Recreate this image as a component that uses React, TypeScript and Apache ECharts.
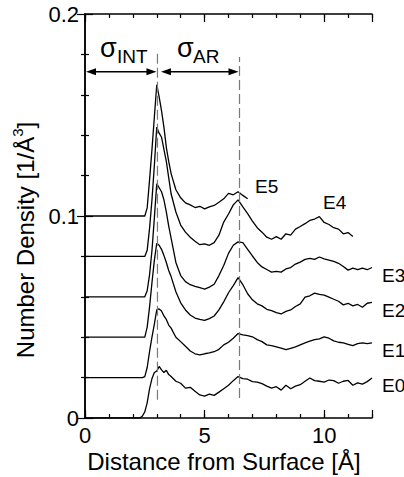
import React, { useEffect, useRef } from "react";
import * as echarts from "echarts";

// Distance from surface [Å]
const X = [0, 2.3, 2.4, 2.5, 2.6, 2.7, 2.8, 2.9, 3.0, 3.1, 3.2, 3.3, 3.4, 3.5, 3.6,
  3.8, 4.0, 4.2, 4.4, 4.6, 4.8, 5.0, 5.2, 5.4, 5.6, 5.8, 6.0, 6.2, 6.4, 6.6, 6.8,
  7.0, 7.2, 7.4, 7.6, 7.8, 8.0, 8.2, 8.4, 8.6, 8.8, 9.0, 9.2, 9.4, 9.6, 9.8,
  10.0, 10.2, 10.4, 10.6, 10.8, 11.0, 11.2, 11.4, 11.6, 11.8, 12.0];

// Number density curves (offset baselines as plotted)
const E0 = [0, 0, 0.001, 0.003, 0.0075, 0.0145, 0.0195, 0.0225, 0.0232, 0.0255, 0.0238, 0.0225, 0.0236, 0.0215, 0.0205,
  0.0182, 0.0172, 0.0148, 0.0152, 0.0132, 0.0114, 0.0108, 0.0118, 0.0112, 0.0128, 0.0145, 0.0162, 0.0185, 0.0205, 0.0195, 0.0192,
  0.018, 0.0178, 0.017, 0.0158, 0.0148, 0.0155, 0.0138, 0.0162, 0.0145, 0.0158, 0.0165, 0.0182, 0.0198, 0.0185, 0.0182,
  0.0178, 0.0188, 0.0185, 0.0172, 0.0182, 0.0186, 0.0162, 0.0174, 0.0168, 0.018, 0.0198];
const E1 = [0.02, 0.02, 0.02, 0.0205, 0.025, 0.033, 0.04, 0.0465, 0.0535, 0.054, 0.053, 0.0505, 0.0488, 0.046, 0.0445,
  0.04, 0.0378, 0.0355, 0.0332, 0.0318, 0.0312, 0.0318, 0.0322, 0.0328, 0.034, 0.0362, 0.0375, 0.0395, 0.0418, 0.0412, 0.0408,
  0.0402, 0.0388, 0.0378, 0.0362, 0.0358, 0.0352, 0.0346, 0.0338, 0.0345, 0.0352, 0.0362, 0.0372, 0.038, 0.0388, 0.0392,
  0.0402, 0.0395, 0.0382, 0.0375, 0.0372, 0.0365, 0.0358, 0.0368, 0.0372, 0.0368, 0.0372];
const E2 = [0.04, 0.04, 0.04, 0.04, 0.045, 0.055, 0.067, 0.078, 0.0865, 0.0855, 0.0835, 0.0805, 0.077, 0.073, 0.07,
  0.0625, 0.057, 0.0535, 0.051, 0.0495, 0.0488, 0.0483, 0.0492, 0.0505, 0.0535, 0.0575, 0.062, 0.0655, 0.0695, 0.066, 0.0615,
  0.0585, 0.0565, 0.0555, 0.0538, 0.0532, 0.0522, 0.0515, 0.0528, 0.0535, 0.0552, 0.0565, 0.0598, 0.0605, 0.0618, 0.0612,
  0.0608, 0.0598, 0.0588, 0.0578, 0.056, 0.0568, 0.0555, 0.0562, 0.0548, 0.0568, 0.0572];
const E3 = [0.06, 0.06, 0.06, 0.06, 0.063, 0.071, 0.083, 0.099, 0.116, 0.114, 0.112, 0.108, 0.102, 0.095, 0.089,
  0.077, 0.0705, 0.0675, 0.066, 0.0652, 0.0645, 0.0638, 0.0648, 0.0662, 0.0705, 0.0755, 0.0815, 0.0855, 0.0872, 0.0868, 0.0835,
  0.0802, 0.077, 0.0748, 0.0735, 0.0722, 0.0726, 0.0722, 0.0738, 0.0745, 0.0762, 0.0772, 0.0785, 0.079, 0.0785, 0.0797,
  0.0788, 0.0782, 0.0775, 0.0766, 0.075, 0.0732, 0.0742, 0.0735, 0.0742, 0.0734, 0.0745];
const E4 = [0.08, 0.08, 0.08, 0.08, 0.083, 0.094, 0.108, 0.125, 0.144, 0.141, 0.139, 0.133, 0.127, 0.119, 0.111,
  0.102, 0.0955, 0.092, 0.0895, 0.0875, 0.0858, 0.0862, 0.0855, 0.0868, 0.0905, 0.097, 0.101, 0.1055, 0.108, 0.1045, 0.1012,
  0.0975, 0.0942, 0.092, 0.0895, 0.0885, 0.0898, 0.0885, 0.0912, 0.0905, 0.0935, 0.0948, 0.0962, 0.0978, 0.0985, 0.0997,
  0.0968, 0.0958, 0.0942, 0.0935, 0.0912, 0.0918, 0.0898];
const E5 = [0.1, 0.1, 0.1, 0.1, 0.104, 0.118, 0.133, 0.149, 0.165, 0.159, 0.152, 0.144, 0.134, 0.127, 0.121,
  0.113, 0.109, 0.1065, 0.1055, 0.1042, 0.1048, 0.1035, 0.1045, 0.1052, 0.1068, 0.1085, 0.1112, 0.1105, 0.112, 0.1102, 0.1085];

const CURVES = [E0, E1, E2, E3, E4, E5];
const CURVE_NAMES = ["E0", "E1", "E2", "E3", "E4", "E5"];

// Annotations (data coordinates)
const SIGMA_LINES_X = [3.03, 6.46];
const SIGMA_LINES_Y = [[0.009, 0.1807], [0.0099, 0.1787]];
const ARROW_Y = 0.1714;
const SIGMA_LABELS = [["σ", "INT"], ["σ", "AR"]];

const FONT = "'Liberation Sans', Arial, Helvetica, sans-serif";

export default function App() {
  const ref = useRef<HTMLDivElement>(null);
  useEffect(() => {
    const chart = echarts.init(ref.current!, null, { renderer: "svg" });
    const axisLine = { show: true, lineStyle: { color: "#000", width: 1.5 } };
    const tickStyle = { color: "#000", width: 1.2 };
    const xBase = { type: "value", min: 0, max: 12, splitLine: { show: false } };
    const option: any = {
      animation: false,
      backgroundColor: "#fff",
      grid: { left: 85, right: 32, top: 14, bottom: 59 },
      xAxis: [
        {
          ...xBase, interval: 5, position: "bottom", axisLine,
          axisTick: { inside: true, length: 8, lineStyle: tickStyle },
          axisLabel: {
            fontSize: 22, color: "#000", fontFamily: FONT, margin: 6,
            formatter: (v: number) => (v % 5 === 0 ? String(v) : ""),
          },
        },
        {
          ...xBase, interval: 1, position: "bottom", axisLine: { show: false },
          axisTick: { inside: true, length: 4, lineStyle: tickStyle }, axisLabel: { show: false },
        },
        {
          ...xBase, interval: 5, position: "top", axisLine,
          axisTick: { inside: true, length: 8, lineStyle: tickStyle }, axisLabel: { show: false },
        },
        {
          ...xBase, interval: 1, position: "top", axisLine: { show: false },
          axisTick: { inside: true, length: 4, lineStyle: tickStyle }, axisLabel: { show: false },
        },
      ],
      yAxis: [
        {
          type: "value", min: 0, max: 0.2, interval: 0.1, position: "left", axisLine,
          splitLine: { show: false },
          axisTick: { inside: true, length: 8, lineStyle: tickStyle },
          minorTick: { show: true, splitNumber: 5, length: 4, lineStyle: tickStyle },
          axisLabel: { fontSize: 22, color: "#000", fontFamily: FONT, margin: 6 },
        },
        {
          type: "value", min: 0, max: 0.2, interval: 0.1, position: "right", axisLine,
          splitLine: { show: false },
          axisTick: { inside: true, length: 8, lineStyle: tickStyle },
          minorTick: { show: true, splitNumber: 5, length: 4, lineStyle: tickStyle },
          axisLabel: { show: false },
        },
      ],
      series: CURVES.map((ys, k) => ({
        name: CURVE_NAMES[k],
        type: "line",
        xAxisIndex: 0,
        yAxisIndex: 0,
        showSymbol: false,
        symbol: "none",
        lineStyle: { color: "#000", width: 1.3 },
        data: ys.map((y, i) => [X[i], y]),
      })),
    };
    chart.setOption(option);

    const px = (x: number, y: number) =>
      chart.convertToPixel({ xAxisIndex: 0, yAxisIndex: 0 }, [x, y]) as number[];

    const g: any[] = [];
    // dashed vertical lines
    SIGMA_LINES_X.forEach((x, i) => {
      const a = px(x, SIGMA_LINES_Y[i][0]);
      const b = px(x, SIGMA_LINES_Y[i][1]);
      g.push({
        type: "line", z: 5,
        shape: { x1: a[0], y1: a[1], x2: b[0], y2: b[1] },
        style: { stroke: "#7a7a7a", lineWidth: 1.2, lineDash: [10, 4] },
      });
    });
    // double arrows
    const ends = [0, SIGMA_LINES_X[0], SIGMA_LINES_X[1]];
    const headL = 10, headW = 3.6;
    for (let i = 0; i < 2; i++) {
      const l = px(ends[i], ARROW_Y);
      const r = px(ends[i + 1], ARROW_Y);
      const tl = l[0] + (i === 0 ? 1 : 3.5);
      const tr = r[0] - 1;
      const y = l[1];
      g.push({
        type: "line", z: 6,
        shape: { x1: tl + headL - 1, y1: y, x2: tr - headL + 1, y2: y },
        style: { stroke: "#000", lineWidth: 1.4 },
      });
      g.push({
        type: "polygon", z: 6,
        shape: { points: [[tl, y], [tl + headL, y - headW], [tl + headL, y + headW]] },
        style: { fill: "#000" },
      });
      g.push({
        type: "polygon", z: 6,
        shape: { points: [[tr, y], [tr - headL, y - headW], [tr - headL, y + headW]] },
        style: { fill: "#000" },
      });
    }
    // sigma labels
    const sigPos = [[100, 48, 117, 56], [177, 48, 193, 56]];
    SIGMA_LABELS.forEach((lab, i) => {
      const p = sigPos[i];
      g.push({
        type: "text", x: p[0], y: p[1], z: 7,
        style: { text: lab[0], font: `27px ${FONT}`, fill: "#000", align: "left", verticalAlign: "middle" },
      });
      g.push({
        type: "text", x: p[2], y: p[3], z: 7,
        style: { text: lab[1], font: `19px ${FONT}`, fill: "#000", align: "left", verticalAlign: "middle" },
      });
    });
    // curve labels
    const labPos = [[382, 385], [382, 350], [382, 310], [382, 275], [323, 202], [255, 186]];
    CURVE_NAMES.forEach((n, k) => {
      g.push({
        type: "text", x: labPos[k][0], y: labPos[k][1], z: 7,
        style: { text: n, font: `19px ${FONT}`, fill: "#000", align: "left", verticalAlign: "middle" },
      });
    });
    // axis titles
    g.push({
      type: "text", x: 224, y: 461, z: 7,
      style: {
        text: "Distance from Surface [Å]", font: `24px ${FONT}`, fill: "#000",
        align: "center", verticalAlign: "middle",
      },
    });
    g.push({
      type: "text", x: 25, y: 240, rotation: Math.PI / 2, z: 7,
      style: {
        text: "Number Density [1/Å{sup|3}]", font: `24px ${FONT}`, fill: "#000",
        align: "center", verticalAlign: "middle", lineHeight: 30,
        rich: { sup: { fontSize: 15, fontFamily: FONT, fill: "#000", verticalAlign: "top", lineHeight: 30 } },
      },
    });
    chart.setOption({ graphic: g });

    return () => chart.dispose();
  }, []);
  return (
    <div
      ref={ref}
      style={{ width: 404, height: 477, position: "fixed", left: 0, top: 0, background: "#fff" }}
    />
  );
}
